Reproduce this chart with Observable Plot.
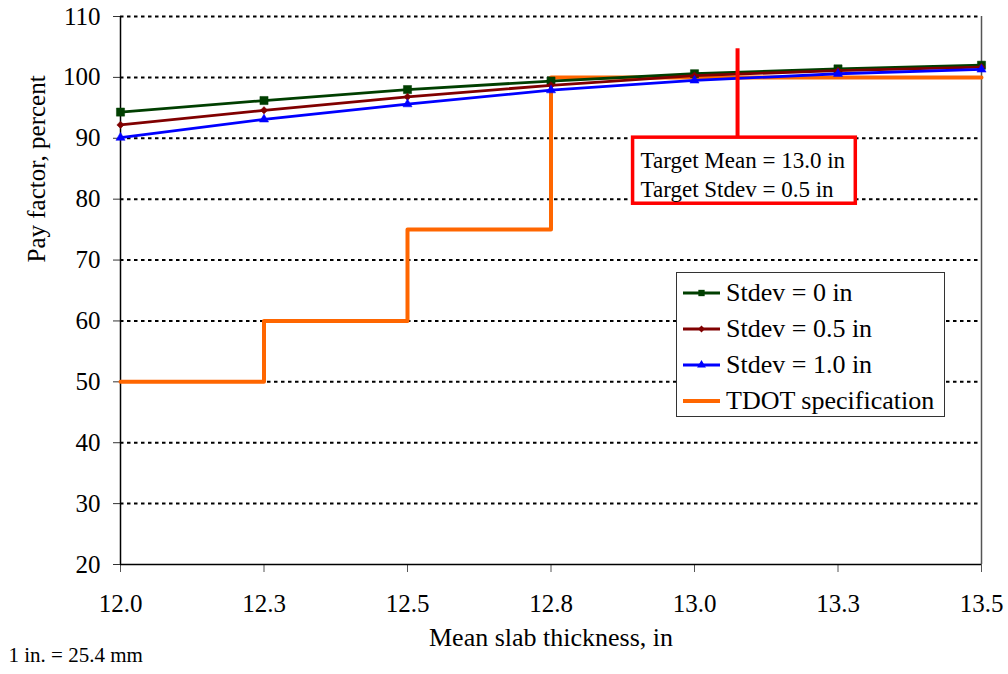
<!DOCTYPE html>
<html>
<head>
<meta charset="utf-8">
<script src="https://cdn.jsdelivr.net/npm/d3@7"></script>
<script src="https://cdn.jsdelivr.net/npm/@observablehq/plot@0.6"></script>
<style>
  html, body { margin: 0; padding: 0; background: white; }
  #chart { position: relative; width: 1008px; height: 674px; overflow: hidden; }
  #chart svg { display: block; }
  #legend { position: absolute; left: 676px; top: 272px; }
</style>
</head>
<body>
<div id="chart"></div>
<script>
// Mean slab thickness (in) and the matching tick labels
const thickness = [12.0, 12.25, 12.5, 12.75, 13.0, 13.25, 13.5];
const xTickLabels = ["12.0", "12.3", "12.5", "12.8", "13.0", "13.3", "13.5"];
const yTicks = [20, 30, 40, 50, 60, 70, 80, 90, 100, 110];

// Pay factor (percent) for each standard deviation of thickness
const payStdev0 = [94.3, 96.2, 98.0, 99.4, 100.6, 101.4, 102.0];
const payStdev05 = [92.2, 94.6, 96.8, 98.7, 100.3, 101.1, 101.7];
const payStdev10 = [90.1, 93.1, 95.6, 97.9, 99.5, 100.6, 101.3];

// TDOT specification: pay factor steps by thickness
const specThickness = [12.0, 12.25, 12.5, 12.75, 13.5];
const specPay = [50, 60, 75, 100, 100];

// Target callout
const calloutLines = ["Target Mean = 13.0 in", "Target Stdev = 0.5 in"];
const calloutPointerX = 13.075;
const calloutPointerTop = 104.7;
const calloutBox = {x1: 12.893, x2: 13.281, y1: 79.25, y2: 90.1};

const series = [
  {name: "Stdev = 0 in", values: payStdev0, color: "#003f00", symbol: "square", r: 4.6, legendSymbol: d3.symbolSquare, legendSize: 40},
  {name: "Stdev = 0.5 in", values: payStdev05, color: "#800000", symbol: "diamond2", r: 3.3, legendSymbol: d3.symbolDiamond2, legendSize: 30},
  {name: "Stdev = 1.0 in", values: payStdev10, color: "#0000ff", symbol: "triangle", r: 3.4, legendSymbol: d3.symbolTriangle, legendSize: 34}
];
const specName = "TDOT specification";
const specColor = "#ff6600";

const serif = "'Liberation Serif', 'Times New Roman', serif";

const rows = series.flatMap(s => thickness.map((t, i) => ({series: s.name, t, pay: s.values[i]})));
const specRows = specThickness.map((t, i) => ({t, pay: specPay[i]}));

const lineMarks = series.flatMap(s => {
  const data = rows.filter(d => d.series === s.name);
  return [
    Plot.line(data, {x: "t", y: "pay", stroke: s.color, strokeWidth: 2.8}),
    Plot.dot(data, {x: "t", y: "pay", symbol: () => s.symbol, r: s.r, fill: s.color, stroke: s.color, strokeWidth: 0.5})
  ];
});

const chart = Plot.plot({
  width: 1008,
  height: 674,
  marginLeft: 120,
  marginRight: 27,
  marginTop: 16,
  marginBottom: 110,
  style: {fontFamily: serif, color: "black", background: "white", overflow: "visible"},
  x: {domain: [12, 13.5]},
  y: {domain: [20, 110]},
  symbol: {type: "identity"},
  marks: [
    Plot.gridY(yTicks.filter(v => v > 20), {stroke: "black", strokeOpacity: 1, strokeWidth: 2, strokeDasharray: "3.5,3.5"}),
    Plot.ruleX([13.5], {stroke: "#555", strokeWidth: 1.5}),
    Plot.axisY({ticks: yTicks, tickSize: 7, tickPadding: 13, fontSize: 25, label: null, stroke: "#333"}),
    Plot.axisX({ticks: thickness, tickFormat: d => xTickLabels[thickness.indexOf(d)], tickSize: 8, tickPadding: 22, fontSize: 25, label: null, stroke: "#555"}),
    Plot.ruleX([12], {stroke: "black", strokeWidth: 1.5}),
    Plot.ruleY([20], {stroke: "black", strokeWidth: 1.5}),
    // TDOT step schedule
    Plot.line(specRows, {x: "t", y: "pay", curve: "step-after", stroke: specColor, strokeWidth: 4}),
    ...lineMarks,
    // Target callout
    Plot.ruleX([calloutPointerX], {y1: calloutBox.y2, y2: calloutPointerTop, stroke: "#ff0000", strokeWidth: 4}),
    Plot.rect([calloutBox], {x1: "x1", x2: "x2", y1: "y1", y2: "y2", fill: "white", stroke: "#ff0000", strokeWidth: 3.5}),
    Plot.text([calloutLines.join("\n")], {x: 12.906, y: 88.5, textAnchor: "start", lineAnchor: "top", lineHeight: 1.26, fontSize: 23, fill: "black"}),
    // Axis titles and unit note
    Plot.text(["Pay factor, percent"], {frameAnchor: "left", rotate: -90, dx: -84, dy: -28, fontSize: 25, fill: "black"}),
    Plot.text(["Mean slab thickness, in"], {frameAnchor: "bottom", dy: 81, fontSize: 26, fill: "black"}),
    Plot.text(["1 in. = 25.4 mm"], {frameAnchor: "bottom-left", textAnchor: "start", dx: -112, dy: 97, fontSize: 21, fill: "black"})
  ]
});

const container = document.getElementById("chart");
container.appendChild(chart);

// Legend box
const legendW = 269, legendH = 145;
const legend = d3.create("svg")
  .attr("id", "legend")
  .attr("width", legendW)
  .attr("height", legendH)
  .style("font-family", serif);
legend.append("rect")
  .attr("x", 0.5).attr("y", 0.5)
  .attr("width", legendW - 1).attr("height", legendH - 1)
  .attr("fill", "white").attr("stroke", "#333").attr("stroke-width", 1);

const entries = [
  ...series.map(s => ({name: s.name, color: s.color, symbol: s.legendSymbol, size: s.legendSize, width: 2.8})),
  {name: specName, color: specColor, symbol: null, width: 4}
];
entries.forEach((e, i) => {
  const cy = 21 + i * 36;
  const g = legend.append("g");
  g.append("line")
    .attr("x1", 7).attr("x2", 44).attr("y1", cy).attr("y2", cy)
    .attr("stroke", e.color).attr("stroke-width", e.width);
  if (e.symbol) {
    g.append("path")
      .attr("transform", `translate(25.5,${cy})`)
      .attr("d", d3.symbol(e.symbol, e.size)())
      .attr("fill", e.color);
  }
  g.append("text")
    .attr("x", 50).attr("y", cy).attr("dy", "0.32em")
    .attr("font-size", 26).attr("fill", "black")
    .text(e.name);
});
container.appendChild(legend.node());
</script>
</body>
</html>
